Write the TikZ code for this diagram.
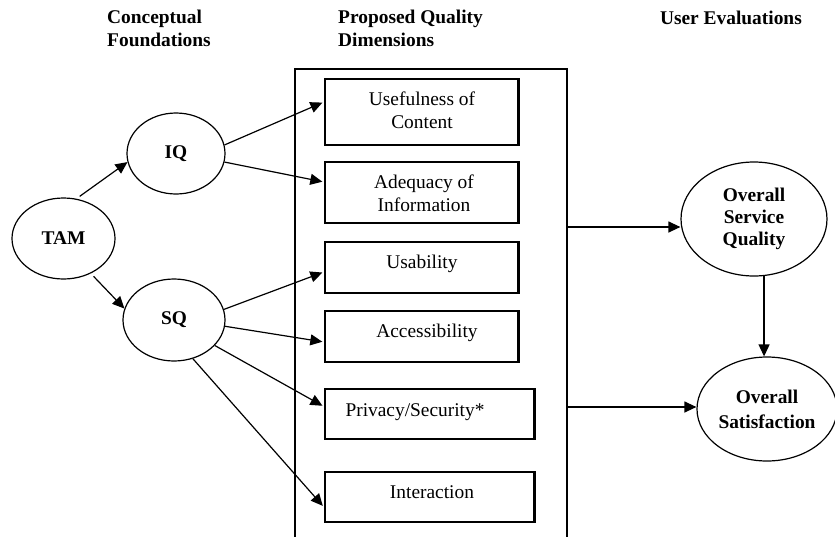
\documentclass[tikz,border=0pt]{standalone}
\usepackage{fontspec}
\setmainfont{Liberation Serif}
\usetikzlibrary{arrows.meta,calc,shapes.geometric}
\begin{document}
\begin{tikzpicture}[x=1pt,y=-1pt,
  txt/.style={font=\fontsize{19.4}{23}\selectfont, inner sep=0pt},
  hdr/.style={inner sep=0pt, font=\fontsize{19.4}{22.5}\selectfont\bfseries, align=left, anchor=base west},
  dimbox/.style={draw, line width=2.4pt, inner sep=0pt, minimum width=193.5pt},
  widebox/.style={dimbox, minimum width=209.5pt},
  dimtext/.style={txt, anchor=base, align=center},
  oval/.style={draw, ellipse, line width=1.2pt, inner sep=0pt, align=center,
    font=\fontsize{19.4}{22}\selectfont\bfseries},
  arr/.style={line width=1.2pt, -{Triangle[length=12pt,width=11pt]}},
]
\useasboundingbox (0,0) rectangle (835,536);
\clip (0,0) rectangle (835,536);

% column headings (multi-line nodes sit on the baseline of their last line)
\node[hdr] (h1) at (107,46) {Conceptual\\Foundations};
\node[hdr] (h2) at (338,46) {Proposed Quality\\Dimensions};
\node[hdr, anchor=base east] (h3) at (802,24) {User Evaluations};

% enclosing frame of the quality dimensions (runs past the lower edge)
\node[draw, line width=1.2pt, minimum width=272pt, minimum height=491pt, inner sep=0pt]
  (frame) at (431,314.5) {};

% quality dimension boxes
\node[dimbox, minimum height=66pt] (b1) at (421.75,112) {};
\node[dimbox, minimum height=61pt] (b2) at (421.75,192.5) {};
\node[dimbox, minimum height=51pt] (b3) at (421.75,267.5) {};
\node[dimbox, minimum height=51pt] (b4) at (421.75,336.5) {};
\node[widebox, minimum height=50pt] (b5) at (429.75,414) {};
\node[widebox, minimum height=50pt] (b6) at (429.75,497) {};

\node[dimtext] (t1) at (422,128) {Usefulness of\\Content};
\node[dimtext] (t2) at (424,211) {Adequacy of\\Information};
\node[dimtext] (t3) at (422,268) {Usability};
\node[dimtext] (t4) at (427,337) {Accessibility};
\node[dimtext] (t5) at (415,416) {Privacy/Security*};
\node[dimtext] (t6) at (432,498) {Interaction};

% constructs
\node[oval, minimum width=103pt, minimum height=81pt] (tam) at (63.5,238.5) {TAM};
\node[oval, minimum width=98pt, minimum height=81pt] (iq) at (176,153.5) {IQ};
\node[oval, minimum width=102pt, minimum height=82pt] (sq) at (174,320) {SQ};
\node[oval, minimum width=146pt, minimum height=114pt] (osq) at (754,219) {Overall\\Service\\Quality};
\node[oval, minimum width=140pt, minimum height=104pt] (sat) at (767,409) {Overall\\[3pt]Satisfaction};

% links from the foundations to the dimensions
\draw[arr, shorten <=4pt] (tam.72) -- (iq.190);
\draw[arr, shorten <=4pt] (tam.-52) -- (sq.167);
\draw[arr, shorten >=1.5pt] (iq.10) -- ($(b1.west)+(0,-10)$);
\draw[arr, shorten >=1.5pt] (iq.-10) -- ($(b2.west)+(0,-10.5)$);
\draw[arr, shorten >=1.5pt] (sq.12) -- ($(b3.west)+(0,4.5)$);
\draw[arr, shorten >=1.5pt] (sq.-7) -- ($(b4.west)+(0,5.5)$);
\draw[arr, shorten >=1.5pt] (sq.-32) -- ($(b5.west)+(0,-7.5)$);
\draw[arr, shorten >=1.5pt] (sq.-64) -- ($(b6.west)+(0,10)$);

% links to the user evaluations
\coordinate (lvl1) at (0,227);
\coordinate (lvl2) at (0,407);
\draw[arr] (frame.east |- lvl1) -- (osq.west |- lvl1);
\draw[arr] (frame.east |- lvl2) -- (sat.west |- lvl2);
\draw[arr] (osq.-80) -- (osq.-80 |- sat.north);
\end{tikzpicture}
\end{document}
